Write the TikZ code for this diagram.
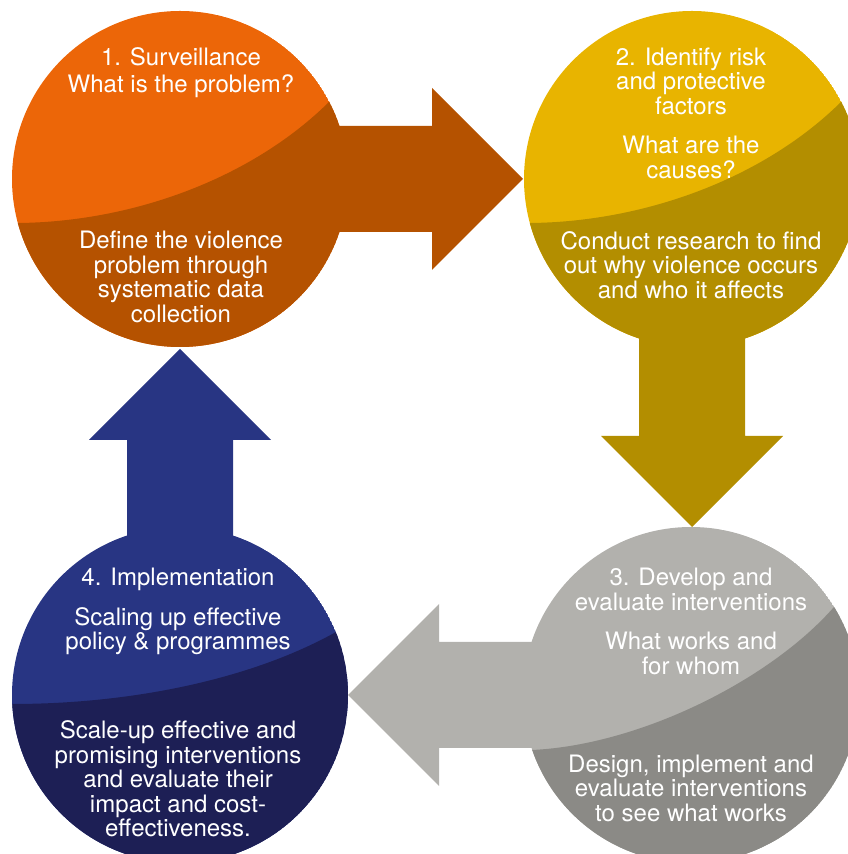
\documentclass[tikz,border=0pt]{standalone}
\usepackage{fontspec}
\setmainfont{TeX Gyre Heros}
\usetikzlibrary{calc}

\definecolor{orangeL}{HTML}{EC6608}
\definecolor{orangeD}{HTML}{B55200}
\definecolor{goldL}{HTML}{E8B400}
\definecolor{goldD}{HTML}{B38E00}
\definecolor{grayL}{HTML}{B2B1AD}
\definecolor{grayD}{HTML}{8B8A86}
\definecolor{blueL}{HTML}{283583}
\definecolor{blueD}{HTML}{1D1F55}

\tikzset{
  steptext/.style={text=white, align=center, inner sep=0pt,
    font=\fontsize{24}{24.5}\selectfont},
}

\begin{document}
\begin{tikzpicture}[x=1pt, y=1pt]
  \useasboundingbox (0,0) rectangle (848,854);
  \clip (0,0) rectangle (848,854);

  % Centros
  \coordinate (c1) at (180,675);
  \coordinate (c2) at (692,675);
  \coordinate (c3) at (691,159);
  \coordinate (c4) at (180,159);

  % Circulo 1
  \begin{scope}[shift={(c1)}]
    \clip (0,0) circle (168);
    \fill[orangeL] (0,0) circle (168);
    \fill[orangeD] (-162,-44) .. controls (-50,-43) and (70,-1) .. (149,77)
      -- (250,250) -- (250,-250) -- (-250,-250) -- (-250,-44) -- cycle;
  \end{scope}

  % Circulo 2
  \begin{scope}[shift={(c2)}]
    \clip (0,0) circle (168);
    \fill[goldL] (0,0) circle (168);
    \fill[goldD] (-162,-44) .. controls (-50,-43) and (70,-1) .. (149,77)
      -- (250,250) -- (250,-250) -- (-250,-250) -- (-250,-44) -- cycle;
  \end{scope}

  % Circulo 3
  \begin{scope}[shift={(c3)}]
    \clip (0,0) circle (168);
    \fill[grayL] (0,0) circle (168);
    \fill[grayD] (-159,-55) .. controls (-51,-50) and (79,15) .. (143,88)
      -- (250,250) -- (250,-250) -- (-250,-250) -- (-250,-55) -- cycle;
  \end{scope}

  % Circulo 4
  \begin{scope}[shift={(c4)}]
    \clip (0,0) circle (168);
    \fill[blueL] (0,0) circle (168);
    \fill[blueD] (-168,-9) .. controls (-50,-9) and (70,15) .. (156,63)
      -- (250,250) -- (250,-250) -- (-250,-250) -- (-250,-9) -- cycle;
  \end{scope}

  % Flechas
  \fill[orangeD] ($(c1)+(153,53)$) -- ($(c1)+(252,53)$) -- ($(c1)+(252,91)$)
    -- ($(c1)+(343,0)$) -- ($(c1)+(252,-91)$) -- ($(c1)+(252,-53)$)
    -- ($(c1)+(153,-53)$) -- cycle;
  \fill[goldD] ($(c2)+(-53,-150)$) -- ($(c2)+(-53,-257)$) -- ($(c2)+(-91,-257)$)
    -- ($(c2)+(0,-348)$) -- ($(c2)+(91,-257)$) -- ($(c2)+(53,-257)$)
    -- ($(c2)+(53,-150)$) -- cycle;
  \fill[grayL] ($(c3)+(-150,53)$) -- ($(c3)+(-252,53)$) -- ($(c3)+(-252,91)$)
    -- ($(c3)+(-343,0)$) -- ($(c3)+(-252,-91)$) -- ($(c3)+(-252,-53)$)
    -- ($(c3)+(-150,-53)$) -- cycle;
  \fill[blueL] ($(c4)+(-53,150)$) -- ($(c4)+(-53,255)$) -- ($(c4)+(-91,255)$)
    -- ($(c4)+(0,346)$) -- ($(c4)+(91,255)$) -- ($(c4)+(53,255)$)
    -- ($(c4)+(53,150)$) -- cycle;

  % Textos
  \node[steptext] (s1head) at (181,781.5) {1. Surveillance\\[2pt]What is the problem?};
  \node[steptext] (s1body) at (181,577) {Define the violence\\problem through\\systematic data\\collection};
  \node[steptext] (s2head) at (691,741) {2. Identify risk\\and protective\\factors\\[15pt]What are the\\causes?};
  \node[steptext] (s2body) at (691,589) {Conduct research to find\\out why violence occurs\\and who it affects};
  \node[steptext] (s3head) at (691,232.5) {3. Develop and\\evaluate interventions\\[15pt]What works and\\for whom};
  \node[steptext] (s3body) at (691,66) {Design, implement and\\evaluate interventions\\to see what works};
  \node[steptext] (s4head) at (178,242.5) {4. Implementation\\[15pt]Scaling up effective\\policy \& programmes};
  \node[steptext] (s4body) at (178,75) {Scale-up effective and\\promising interventions\\and evaluate their\\impact and cost-\\effectiveness.};
\end{tikzpicture}
\end{document}
